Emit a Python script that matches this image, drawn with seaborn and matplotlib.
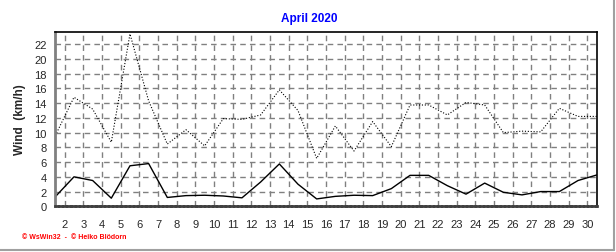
import numpy as np
import pandas as pd
import matplotlib
matplotlib.use("Agg")
import matplotlib.pyplot as plt
from matplotlib.ticker import MultipleLocator, FixedLocator
import seaborn as sns

days = list(range(1, 31))
gust = [9.6, 14.8, 13.2, 8.7, 23.4, 14.3, 8.45, 10.4, 8.2, 11.9,
        11.8, 12.4, 15.8, 13.0, 6.5, 10.9, 7.5, 11.5, 8.1, 13.75,
        13.75, 12.4, 14.1, 13.75, 10.0, 10.2, 10.1, 13.3, 12.2, 12.2]
mean_wind = [1.3, 4.0, 3.5, 1.1, 5.5, 5.8, 1.2, 1.45, 1.5, 1.4,
             1.15, 3.3, 5.75, 3.0, 1.0, 1.35, 1.5, 1.45, 2.4, 4.2,
             4.2, 2.8, 1.65, 3.15, 1.9, 1.55, 2.0, 2.0, 3.5, 4.25]
xtick_labels = [str(d) for d in range(2, 31)]
title = "April 2020"
ylabel = "Wind  (km/h)"
footer = "\u00a9 WsWin32  -  \u00a9 Heiko Blödorn"

sns.set_style("white")
plt.rcParams['font.family'] = ['Liberation Sans', 'DejaVu Sans']

df = pd.DataFrame({"x": [d + 0.5 for d in days], "gust": gust, "mean": mean_wind})

fig = plt.figure(figsize=(6.16, 2.53), dpi=100)
ax = fig.add_axes([55.3/616, 1 - 207.3/253, (596.7-55.3)/616, (207.3-32.7)/253])

ax.set_xlim(1.5, 30.5)
ax.set_ylim(0, 23.7)
ax.set_axisbelow(True)
ax.grid(True, which='major', color='#808080', linestyle=(0, (4, 3)), linewidth=1)

sns.lineplot(data=df, x="x", y="gust", ax=ax, color='black', linewidth=0.8,
             linestyle=(0, (1, 1.6)))
sns.lineplot(data=df, x="x", y="mean", ax=ax, color='black', linewidth=1)

ax.xaxis.set_major_locator(FixedLocator(list(range(2, 31))))
ax.set_xticklabels(xtick_labels)
ax.xaxis.set_minor_locator(MultipleLocator(0.25))
ax.yaxis.set_major_locator(MultipleLocator(2))
ax.yaxis.set_minor_locator(MultipleLocator(1))
ax.tick_params(axis='both', which='major', direction='out', length=4, width=1,
               color='#606060', labelsize=8, pad=2)
ax.tick_params(axis='both', which='minor', direction='out', length=2, width=1,
               color='#606060')
ax.tick_params(axis='x', which='major', pad=5)
ax.set_xlabel("")
ax.set_ylabel(ylabel, fontsize=8.5, fontweight='bold', labelpad=6)

for s in ['top', 'right']:
    ax.spines[s].set_color('black')
    ax.spines[s].set_linewidth(1.2)
ax.spines['left'].set_color('#808080')
ax.spines['left'].set_linewidth(2)
ax.spines['bottom'].set_color('#404040')
ax.spines['bottom'].set_linewidth(2)
ax.spines['bottom'].set_linestyle((0, (1, 0.5)))

fig.text(309/616, 1 - 19/253, title, ha='center', va='center', color='#0000ff',
         fontsize=8.5, fontweight='bold')
fig.text(22/616, 1 - 238/253, footer, ha='left', va='center', color='#ff0000',
         fontsize=5, fontweight='bold')

# outer gray border lines (right and bottom)
fig.add_artist(plt.Line2D([613.5/616, 613.5/616], [1 - 251/253, 1.0],
                          transform=fig.transFigure, color='#a0a0a0', linewidth=1.5))
fig.add_artist(plt.Line2D([0, 613.5/616], [1 - 251/253, 1 - 251/253],
                          transform=fig.transFigure, color='#a0a0a0', linewidth=1.5))

fig.savefig("out.png", dpi=100, facecolor='white')
